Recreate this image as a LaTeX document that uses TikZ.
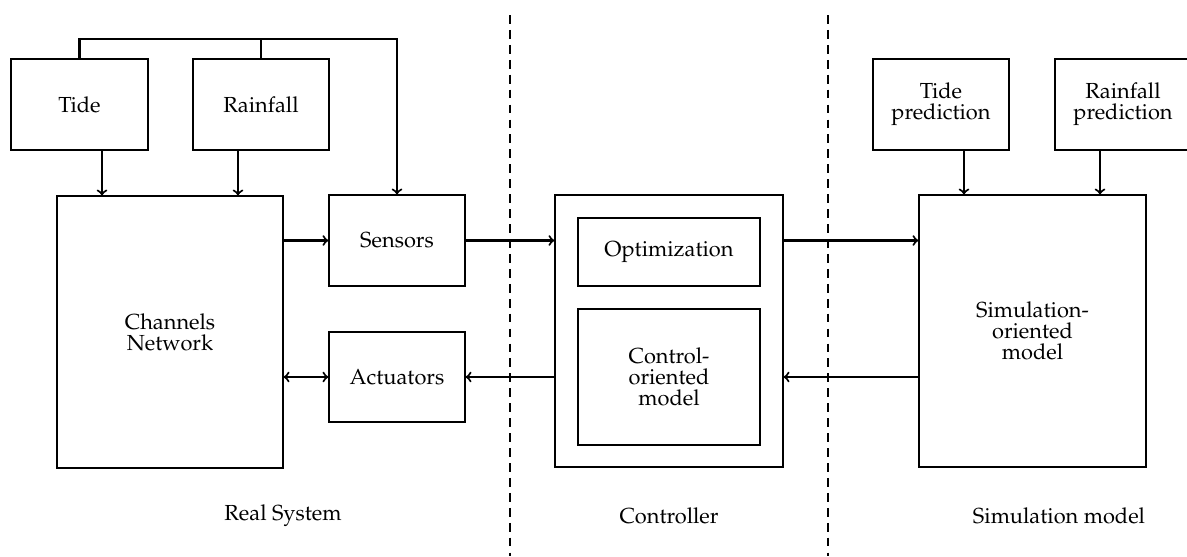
\documentclass[tikz,border=0pt]{standalone}
\usepackage[T1]{fontenc}
\renewcommand{\rmdefault}{ppl}
\begin{document}
\begin{tikzpicture}[x=0.02cm,y=-0.02cm,
  box/.style={draw, line width=0.7pt, align=center, inner sep=0pt,
    font=\fontsize{12.4}{12}\selectfont},
  arr/.style={->, line width=1.2pt},
  conn/.style={line width=1.2pt},
  sep/.style={line width=1.1pt, dash pattern=on 5pt off 3.5pt},
  lbl/.style={font=\fontsize{12.4}{12}\selectfont}]
\useasboundingbox (0,0) rectangle (1187,556);
% nodes
\node[box, minimum width=2.74cm, minimum height=1.82cm] (tide) at (79.5,104.5) {Tide};
\node[box, minimum width=2.72cm, minimum height=1.82cm] (rain) at (261,104.5) {Rainfall};
\node[box, minimum width=4.52cm, minimum height=5.44cm] (chan) at (170,332) {Channels\\Network};
\node[box, minimum width=2.72cm, minimum height=1.82cm] (sens) at (397,240.5) {Sensors};
\node[box, minimum width=2.72cm, minimum height=1.80cm] (act) at (397,377) {Actuators};
\node[box, minimum width=4.56cm, minimum height=5.44cm] (ctrl) at (669,331) {};
\node[box, minimum width=3.64cm, minimum height=1.36cm] (opt) at (669,252) {Optimization};
\node[box, minimum width=3.64cm, minimum height=2.72cm] (com) at (669,377) {Control-\\oriented\\model};
\node[box, minimum width=4.54cm, minimum height=5.44cm] (sim) at (1032.5,331) {Simulation-\\oriented\\model};
\node[box, minimum width=2.72cm, minimum height=1.82cm] (tp) at (941,104.5) {Tide\\prediction};
\node[box, minimum width=2.72cm, minimum height=1.82cm] (rp) at (1123,104.5) {Rainfall\\prediction};
% labels
\node[lbl] (l1) at (283,516) {Real System};
\node[lbl] (l2) at (669,516) {Controller};
\node[lbl] (l3) at (1059,516) {Simulation model};
% separators
\coordinate (s1t) at (510,15);
\coordinate (s1b) at (510,556);
\coordinate (s2t) at (828,15);
\coordinate (s2b) at (828,556);
\draw[sep] (s1t) -- (s1b);
\draw[sep] (s2t) -- (s2b);
% bus on top
\coordinate (bus) at (397,39);
\draw[arr] (tide.north) |- (bus) -- (sens.north);
\draw[conn] (rain.north) -- (rain.north |- bus);
% inputs
\draw[arr] ([xshift=0.45cm]tide.south) -- ([xshift=0.45cm]tide.south |- chan.north);
\draw[arr] ([xshift=-0.46cm]rain.south) -- ([xshift=-0.46cm]rain.south |- chan.north);
\draw[arr] ([xshift=0.46cm]tp.south) -- ([xshift=0.46cm]tp.south |- sim.north);
\draw[arr] ([xshift=-0.46cm]rp.south) -- ([xshift=-0.46cm]rp.south |- sim.north);
% flows
\draw[arr] (chan.east |- sens.west) -- (sens.west);
\draw[<->, line width=1.2pt] (chan.east |- act.west) -- (act.west);
\draw[arr] (sens.east) -- (sens.east -| ctrl.west);
\draw[arr] (ctrl.east |- sens.east) -- (sim.west |- sens.east);
\draw[arr] (sim.west |- act.east) -- (ctrl.east |- act.east);
\draw[arr] (ctrl.west |- act.east) -- (act.east);
\end{tikzpicture}
\end{document}
